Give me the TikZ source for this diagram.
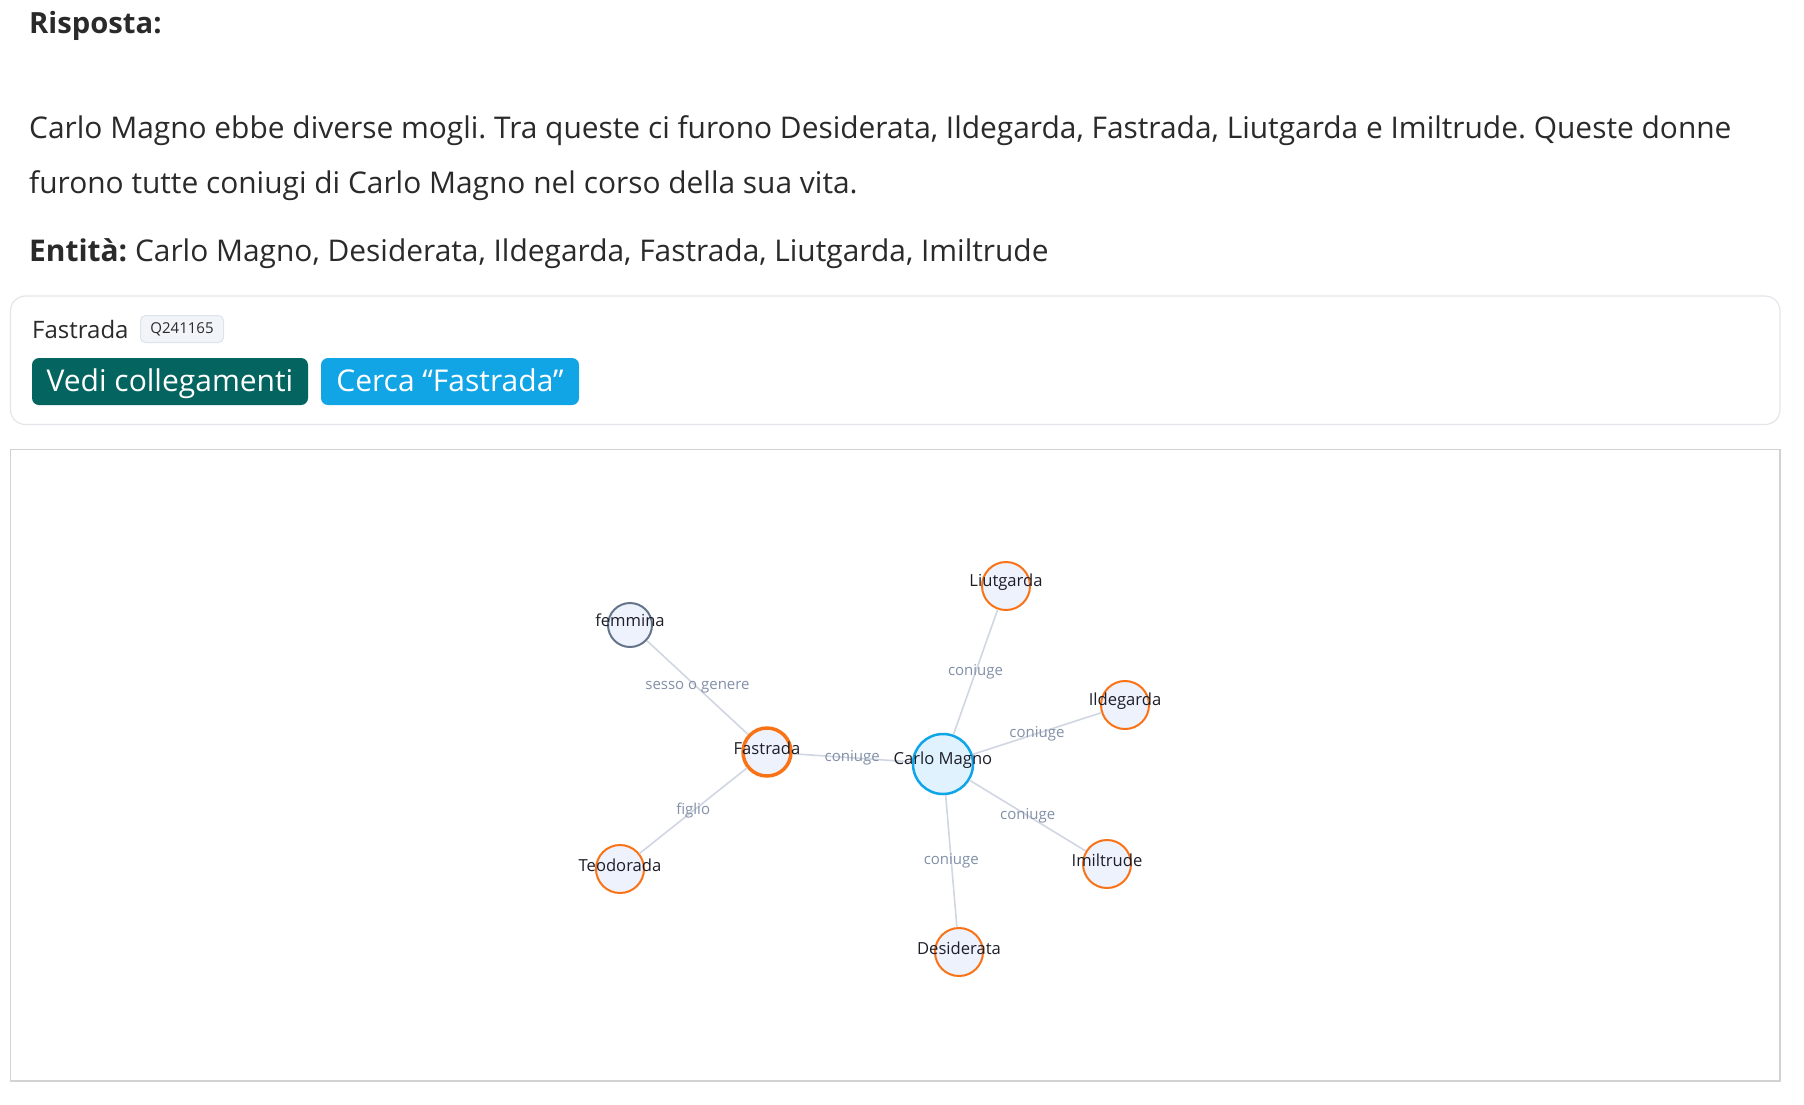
\documentclass[tikz,border=0pt]{standalone}
\usepackage{fontspec}
\setmainfont{Open Sans}
\frenchspacing
\definecolor{txt}{HTML}{2A2A2A}
\definecolor{cardline}{HTML}{E3E6EA}
\definecolor{panelline}{HTML}{D2D2D2}
\definecolor{teal}{HTML}{04645F}
\definecolor{sky}{HTML}{12A5E6}
\definecolor{badgefill}{HTML}{F1F5F9}
\definecolor{badgeline}{HTML}{DDE3EA}
\definecolor{nfill}{HTML}{EEF2FC}
\definecolor{cfill}{HTML}{E0F2FE}
\definecolor{cline}{HTML}{0EA5E9}
\definecolor{orange}{HTML}{F97316}
\definecolor{slate}{HTML}{64748B}
\definecolor{edgec}{HTML}{D0D6E2}
\definecolor{elab}{HTML}{8290A8}
\definecolor{nlab}{HTML}{1E1E2A}
\begin{document}
\begin{tikzpicture}[x=1pt,y=-1pt,
  body/.style={anchor=base west,inner sep=0,text=txt,font=\fontsize{29.9}{34}\selectfont},
  btn/.style={rounded corners=7pt,text=white,font=\fontsize{30}{34}\selectfont,inner sep=0,minimum height=47pt,text height=24pt,text depth=4pt},
  ent/.style={circle,draw=orange,fill=nfill,line width=2pt,minimum size=48pt,inner sep=0},
  nlabel/.style={text=nlab,font=\fontsize{16.6}{18}\selectfont,inner sep=0},
  edge/.style={draw=edgec,line width=1.6pt},
  elabel/.style={text=elab,font=\fontsize{15}{16}\selectfont,inner sep=0,midway,yshift=0pt}
]
\useasboundingbox[fill=white] (0,0) rectangle (1804,1104);

% answer text
\node[body,font=\bfseries\fontsize{29.2}{34}\selectfont] (title) at (29,33.5) {Risposta:};
\node[body] (l1) at (29,138) {Carlo Magno ebbe diverse mogli. Tra queste ci furono Desiderata, Ildegarda, Fastrada, Liutgarda e Imiltrude. Queste donne};
\node[body] (l2) at (29,193.5) {furono tutte coniugi di Carlo Magno nel corso della sua vita.};
\node[body] (l3) at (29,261.5) {\textbf{Entità:} Carlo Magno, Desiderata, Ildegarda, Fastrada, Liutgarda, Imiltrude};

% card
\draw[cardline,line width=1.2pt,rounded corners=15pt] (10.5,296) rectangle (1780,424.5);
\node[body,font=\fontsize{24}{28}\selectfont] (cardname) at (32,338) {Fastrada};
\node[draw=badgeline,fill=badgefill,rounded corners=5pt,line width=1pt,text=txt,
      font=\fontsize{15}{18}\selectfont,minimum width=83pt,minimum height=27pt,inner sep=0] (badge) at (182,329) {Q241165};
\node[btn,fill=teal,minimum width=276pt] (b1) at (170,381.5) {Vedi collegamenti};
\node[btn,fill=sky,minimum width=258pt] (b2) at (450,381.5) {Cerca “Fastrada”};

% graph panel
\draw[panelline,line width=1.2pt] (10.5,449.5) rectangle (1780,1081);

% nodes
\node[ent,draw=slate,minimum size=44pt] (fem) at (630,625) {};
\node[ent] (liu) at (1006,586) {};
\node[ent] (ild) at (1125,705) {};
\node[ent,line width=3.5pt] (fas) at (767,752) {};
\node[ent,draw=cline,fill=cfill,minimum size=60pt,line width=2.5pt] (car) at (943,764) {};
\node[ent] (teo) at (620,869) {};
\node[ent] (imi) at (1107,864) {};
\node[ent] (des) at (959,952) {};

% edges
\path[edge] (fem) -- (fas) node[elabel] {sesso o genere};
\path[edge] (fas) -- (car) node[elabel] {coniuge};
\path[edge] (fas) -- (teo) node[elabel] {figlio};
\path[edge] (car) -- (liu) node[elabel] {coniuge};
\path[edge] (car) -- (ild) node[elabel] {coniuge};
\path[edge] (car) -- (imi) node[elabel] {coniuge};
\path[edge] (car) -- (des) node[elabel] {coniuge};

% node labels
\node[nlabel] (femL) at ([yshift=5pt]fem.center) {femmina};
\node[nlabel] (liuL) at ([yshift=4pt]liu.center) {Liutgarda};
\node[nlabel] (ildL) at ([yshift=4pt]ild.center) {Ildegarda};
\node[nlabel] (fasL) at ([yshift=4pt]fas.center) {Fastrada};
\node[nlabel] (carL) at ([yshift=4pt]car.center) {Carlo Magno};
\node[nlabel] (teoL) at ([yshift=4pt]teo.center) {Teodorada};
\node[nlabel] (imiL) at ([yshift=4pt]imi.center) {Imiltrude};
\node[nlabel] (desL) at ([yshift=4pt]des.center) {Desiderata};
\end{tikzpicture}
\end{document}
